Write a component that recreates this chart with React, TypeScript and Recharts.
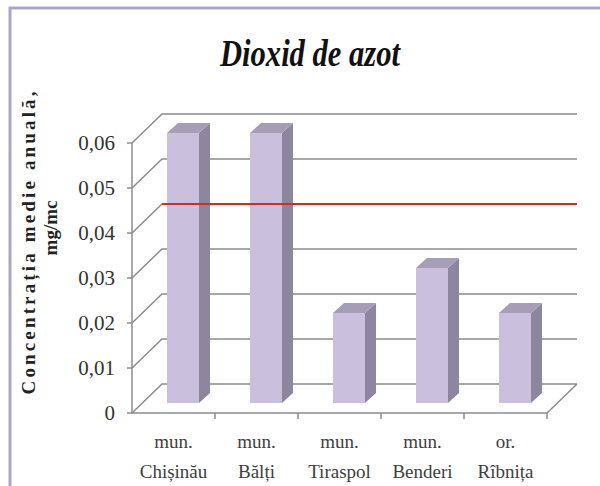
import { BarChart, Bar, XAxis, YAxis, CartesianGrid, ReferenceLine } from 'recharts';

// values
const PREFIXES = ['mun.', 'mun.', 'mun.', 'mun.', 'or.'];
const CATEGORIES = ['Chișinău', 'Bălți', 'Tiraspol', 'Benderi', 'Rîbnița'];
const VALUES = [0.06, 0.06, 0.02, 0.03, 0.02];
const Y_TICKS = [0, 0.01, 0.02, 0.03, 0.04, 0.05, 0.06];
const LIMIT = 0.04;

const data = CATEGORIES.map((name, i) => ({ name, prefix: PREFIXES[i], value: VALUES[i] }));

// layout
const W = 600;
const H = 486;
const MARGIN = { top: 143, right: 53, bottom: 0, left: 0 };
const Y_AXIS_W = 132;
const X_AXIS_H = 73;
const PLOT_W = W - MARGIN.right - Y_AXIS_W;
const PLOT_BOTTOM = H - X_AXIS_H;
const BAND = PLOT_W / CATEGORIES.length;

// 3d look: wall depth and bar depth
const DX = 30;
const DY = -29;
const BAR_SHIFT_X = 9;
const BAR_SHIFT_Y = -10;
const DEPTH_X = 11;
const DEPTH_Y = -10;

const GRID = '#8c8c8c';
const FRONT = '#cac0dd';
const SIDE = '#8e869e';
const TOP = '#a69db7';
const SERIF = '"Liberation Serif", "Times New Roman", serif';

function fmt(v: number) {
  return v === 0 ? '0' : v.toFixed(2).replace('.', ',');
}

function Bar3D(props: any) {
  const { x, y, width, height } = props;
  if (!height) return null;
  const fx = x + BAR_SHIFT_X;
  const fy = y + BAR_SHIFT_Y;
  const r = fx + width;
  const b = fy + height;
  return (
    <g>
      <polygon
        points={`${r},${fy} ${r + DEPTH_X},${fy + DEPTH_Y} ${r + DEPTH_X},${b + DEPTH_Y} ${r},${b}`}
        fill={SIDE}
      />
      <polygon
        points={`${fx},${fy} ${fx + DEPTH_X},${fy + DEPTH_Y} ${r + DEPTH_X},${fy + DEPTH_Y} ${r},${fy}`}
        fill={TOP}
      />
      <rect x={fx} y={fy} width={width} height={height} fill={FRONT} />
    </g>
  );
}

function GridLine(props: any) {
  const { x1, y1, x2 } = props;
  const floor = Math.abs(y1 - PLOT_BOTTOM) < 0.5;
  let d = `M${x1},${y1} L${x1 + DX},${y1 + DY} L${x2 + DX},${y1 + DY}`;
  if (floor) d += ` M${x1},${y1} L${x2},${y1} L${x2 + DX},${y1 + DY}`;
  return <path key={props.key} d={d} fill="none" stroke={GRID} strokeWidth={1.5} />;
}

function LimitLine(props: any) {
  const { x1, y1, x2, y2 } = props;
  return (
    <line x1={x1 + DX} y1={y1 + DY} x2={x2 + DX} y2={y2 + DY} stroke="#d42a2a" strokeWidth={2} />
  );
}

function CategoryTick(props: any) {
  const { x, payload } = props;
  const row = data[payload.index] ?? data.find((d) => d.name === payload.value);
  const edge = x + BAND / 2;
  return (
    <g>
      <line x1={edge} y1={PLOT_BOTTOM} x2={edge} y2={PLOT_BOTTOM + 6} stroke={GRID} strokeWidth={1.5} />
      <text x={x} y={PLOT_BOTTOM + 35} textAnchor="middle" fontFamily={SERIF} fontSize={19} fill="#404040">
        {row ? row.prefix : ''}
      </text>
      <text x={x} y={PLOT_BOTTOM + 65} textAnchor="middle" fontFamily={SERIF} fontSize={19} fill="#404040">
        {payload.value}
      </text>
    </g>
  );
}

export default function App() {
  return (
    <div style={{ position: 'absolute', left: 0, top: 0, width: W, height: H, background: '#fff' }}>
      <svg width={W} height={H} style={{ position: 'absolute', left: 0, top: 0 }}>
        <rect x={10} y={8} width={700} height={600} fill="none" stroke="#aaa7c9" strokeWidth={3} />
        <text
          x={310}
          y={66}
          textAnchor="middle"
          fontFamily={SERIF}
          fontStyle="italic"
          fontWeight="bold"
          fontSize={38}
          textLength={180}
          lengthAdjust="spacingAndGlyphs"
          fill="#111"
        >
          Dioxid de azot
        </text>
        <text
          transform="translate(28,243) rotate(-90)"
          textAnchor="middle"
          dominantBaseline="central"
          fontFamily={SERIF}
          fontWeight="bold"
          fontSize={19}
          textLength={303}
          lengthAdjust="spacing"
          fill="#222"
        >
          Concentrația medie anuală,
        </text>
        <text
          transform="translate(50,228) rotate(-90)"
          textAnchor="middle"
          dominantBaseline="central"
          fontFamily={SERIF}
          fontWeight="bold"
          fontSize={19}
          fill="#222"
        >
          mg/mc
        </text>
      </svg>
      <div style={{ position: 'absolute', left: 0, top: 0 }}>
        <BarChart width={W} height={H} data={data} margin={MARGIN}>
          <CartesianGrid horizontal={GridLine} vertical={false} />
          <XAxis
            dataKey="name"
            interval={0}
            axisLine={false}
            tickLine={false}
            height={X_AXIS_H}
            tick={CategoryTick}
          />
          <YAxis
            width={Y_AXIS_W}
            domain={[0, 0.06]}
            ticks={Y_TICKS}
            tickFormatter={fmt}
            axisLine={{ stroke: GRID, strokeWidth: 1.5 }}
            tickLine={{ stroke: GRID, strokeWidth: 1.5 }}
            tickSize={5}
            tickMargin={12}
            tick={{ fontFamily: SERIF, fontSize: 21, fill: '#333' }}
          />
          <Bar dataKey="value" barSize={32} shape={Bar3D} isAnimationActive={false} />
          <ReferenceLine y={LIMIT} shape={LimitLine} />
        </BarChart>
      </div>
    </div>
  );
}
